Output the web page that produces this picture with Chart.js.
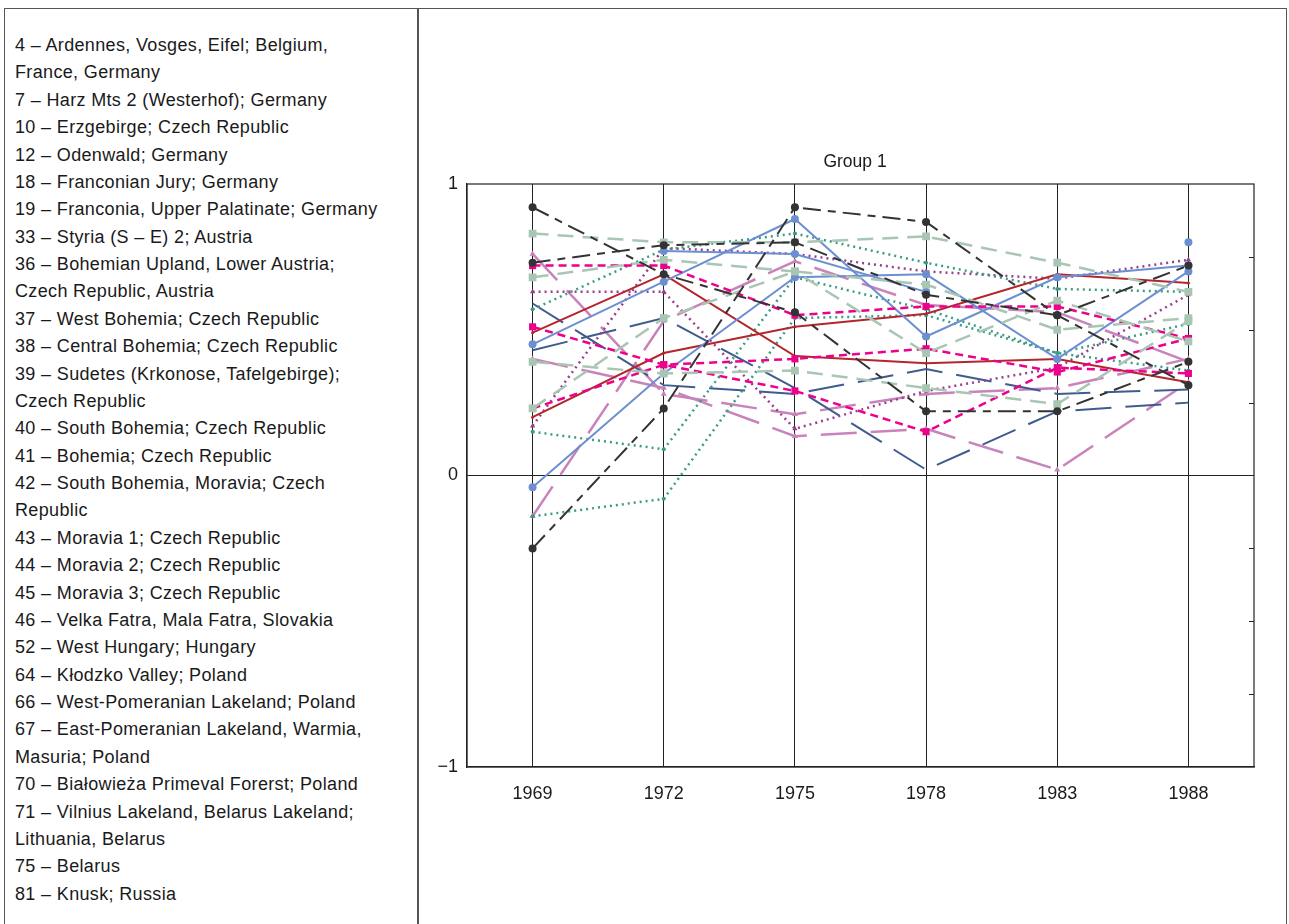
<!DOCTYPE html>
<html>
<head>
<meta charset="utf-8">
<script src="https://cdn.jsdelivr.net/npm/chart.js@4.4.1/dist/chart.umd.min.js"></script>
<style>
  html, body { margin: 0; padding: 0; background: #fff; }
  body { width: 1289px; height: 924px; position: relative; overflow: hidden;
         font-family: "Liberation Sans", Arial, sans-serif; }
  #frame { position: absolute; left: 4px; top: 8px; width: 1283px; height: 930px;
           border: 1.5px solid #555; border-bottom: none; box-sizing: border-box; }
  #divider { position: absolute; left: 417px; top: 8px; width: 1.5px; height: 930px; background: #555; }
  #key { position: absolute; left: 15px; top: 32px; font-size: 18px; line-height: 27.37px;
         letter-spacing: 0.35px; color: #1a1a1a; white-space: pre; }
  #wrap { position: absolute; left: 420px; top: 0; width: 869px; height: 924px; }
</style>
</head>
<body>
<div id="frame"></div>
<div id="divider"></div>
<div id="key"></div>
<div id="wrap"><canvas id="c" width="869" height="924"></canvas></div>
<script>
// Region key shown in the left panel (one entry per line, wrapped as printed)
const keyLines = [
  "4 – Ardennes, Vosges, Eifel; Belgium,",
  "France, Germany",
  "7 – Harz Mts 2 (Westerhof); Germany",
  "10 – Erzgebirge; Czech Republic",
  "12 – Odenwald; Germany",
  "18 – Franconian Jury; Germany",
  "19 – Franconia, Upper Palatinate; Germany",
  "33 – Styria (S – E) 2; Austria",
  "36 – Bohemian Upland, Lower Austria;",
  "Czech Republic, Austria",
  "37 – West Bohemia; Czech Republic",
  "38 – Central Bohemia; Czech Republic",
  "39 – Sudetes (Krkonose, Tafelgebirge);",
  "Czech Republic",
  "40 – South Bohemia; Czech Republic",
  "41 – Bohemia; Czech Republic",
  "42 – South Bohemia, Moravia; Czech",
  "Republic",
  "43 – Moravia 1; Czech Republic",
  "44 – Moravia 2; Czech Republic",
  "45 – Moravia 3; Czech Republic",
  "46 – Velka Fatra, Mala Fatra, Slovakia",
  "52 – West Hungary; Hungary",
  "64 – Kłodzko Valley; Poland",
  "66 – West-Pomeranian Lakeland; Poland",
  "67 – East-Pomeranian Lakeland, Warmia,",
  "Masuria; Poland",
  "70 – Białowieża Primeval Forerst; Poland",
  "71 – Vilnius Lakeland, Belarus Lakeland;",
  "Lithuania, Belarus",
  "75 – Belarus",
  "81 – Knusk; Russia"
];
document.getElementById('key').textContent = keyLines.join('\n');

// Survey years
const years = ['1969', '1972', '1975', '1978', '1983', '1988'];
const yTickValues = [-1, 0, 1];
const minorTickValues = [-0.75, -0.5, -0.25, 0.25, 0.5, 0.75];

// Correlation coefficients per region
const r4  = [0.92, 0.69, 0.56, 0.22, 0.22, 0.39];
const r7  = [0.73, 0.79, 0.80, 0.62, 0.55, 0.72];
const r10 = [-0.25, 0.23, 0.92, 0.87, 0.55, 0.31];
const r12 = [0.83, 0.80, 0.80, 0.82, 0.73, 0.63];
const r18 = [0.68, 0.74, 0.70, 0.42, 0.60, 0.46];
const r19 = [0.39, 0.35, 0.36, 0.30, 0.245, 0.53];
const r33 = [0.23, 0.54, 0.70, 0.655, 0.50, 0.54];
const r36 = [0.72, 0.72, 0.55, 0.58, 0.58, 0.47];
const r37 = [0.51, 0.38, 0.40, 0.435, 0.355, 0.47];
const r38 = [0.23, 0.38, 0.29, 0.15, 0.37, 0.35];
const r39 = [0.45, 0.665, 0.88, 0.477, 0.68, 0.72];
const r40 = [-0.04, 0.35, 0.68, 0.69, 0.40, 0.70];
const r41 = [null, 0.77, 0.76, 0.63, null, 0.80];
const r42 = [0.49, 0.69, 0.41, 0.385, 0.40, 0.32];
const r43 = [0.20, 0.42, 0.51, 0.555, 0.69, 0.66];
const r44 = [0.57, 0.775, 0.83, 0.73, 0.64, 0.63];
const r45 = [0.15, 0.09, 0.68, 0.57, 0.42, 0.36];
const r46 = [-0.14, -0.08, 0.54, 0.55, 0.42, 0.52];
const r52 = [0.63, 0.63, 0.16, 0.29, 0.37, 0.62];
const r64 = [0.17, 0.78, 0.76, 0.70, 0.675, 0.74];
const r66 = [0.43, 0.54, 0.30, 0.02, 0.22, 0.25];
const r67 = [0.59, 0.31, 0.28, 0.365, 0.28, 0.295];
const r70 = [0.76, 0.28, 0.21, 0.28, 0.30, 0.40];
const r71 = [-0.14, 0.53, 0.735, 0.585, 0.56, 0.39];
const r75 = [0.40, 0.30, 0.135, 0.16, 0.02, 0.32];

// Line styles
const styles = {
  black:   { borderColor: '#333333', borderWidth: 2,   borderDash: [18, 7, 8, 7], pointStyle: 'circle',   pointRadius: 4 },
  sage:    { borderColor: '#a9c6b4', borderWidth: 2.5, borderDash: [16, 9],       pointStyle: 'rect',     pointRadius: 5.5 },
  magenta: { borderColor: '#ec008c', borderWidth: 2.5, borderDash: [8, 5],        pointStyle: 'rect',     pointRadius: 5 },
  blue:    { borderColor: '#6c8fd1', borderWidth: 2,   borderDash: [],            pointStyle: 'circle',   pointRadius: 4 },
  red:     { borderColor: '#b3262c', borderWidth: 2,   borderDash: [],            pointStyle: 'circle',   pointRadius: 1.5 },
  teal:    { borderColor: '#3a9c86', borderWidth: 2.5, borderDash: [2, 4],        pointStyle: 'circle',   pointRadius: 2 },
  purple:  { borderColor: '#9a3f8e', borderWidth: 2.5, borderDash: [2, 4],        pointStyle: 'triangle', pointRadius: 3 },
  navy:    { borderColor: '#3f5c8e', borderWidth: 2,   borderDash: [36, 14],      pointStyle: 'line',     pointRadius: 3 },
  pink:    { borderColor: '#c983bb', borderWidth: 2.5, borderDash: [36, 14],      pointStyle: 'triangle', pointRadius: 3.5 }
};

const seriesList = [
  ['4', r4, 'black'], ['7', r7, 'black'], ['10', r10, 'black'],
  ['12', r12, 'sage'], ['18', r18, 'sage'], ['19', r19, 'sage'], ['33', r33, 'sage'],
  ['36', r36, 'magenta'], ['37', r37, 'magenta'], ['38', r38, 'magenta'],
  ['39', r39, 'blue'], ['40', r40, 'blue'], ['41', r41, 'blue'],
  ['42', r42, 'red'], ['43', r43, 'red'],
  ['44', r44, 'teal'], ['45', r45, 'teal'], ['46', r46, 'teal'],
  ['52', r52, 'purple'], ['64', r64, 'purple'],
  ['66', r66, 'navy'], ['67', r67, 'navy'],
  ['70', r70, 'pink'], ['71', r71, 'pink'], ['75', r75, 'pink']
];

const datasets = seriesList.map(([label, data, s]) => Object.assign({
  label, data, fill: false, tension: 0, spanGaps: false,
  pointBorderWidth: 0, pointHoverRadius: 4
}, styles[s], {
  backgroundColor: styles[s].borderColor,
  pointBorderColor: styles[s].borderColor,
  pointBackgroundColor: styles[s].borderColor
}));

const FONT = '"Liberation Sans", Arial, sans-serif';

// Frame, right-hand minor ticks and the panel title
const decor = {
  id: 'decor',
  afterDatasetsDraw(chart) {
    const { ctx, chartArea: a, scales: { y } } = chart;
    ctx.save();
    ctx.strokeStyle = '#222';
    ctx.lineWidth = 1.2;
    ctx.strokeRect(a.left, a.top, a.right - a.left, a.bottom - a.top);
    ctx.beginPath();
    minorTickValues.forEach(v => {
      const py = Math.round(y.getPixelForValue(v)) + 0.5;
      ctx.moveTo(a.right, py);
      ctx.lineTo(a.right - 5, py);
    });
    ctx.stroke();
    ctx.fillStyle = '#1a1a1a';
    ctx.font = '17.5px ' + FONT;
    ctx.textAlign = 'center';
    ctx.textBaseline = 'middle';
    ctx.fillText('Group 1', 435, 162);
    ctx.restore();
  }
};

new Chart(document.getElementById('c'), {
  type: 'line',
  data: { labels: years, datasets },
  options: {
    responsive: false,
    animation: false,
    layout: { padding: { top: 184, right: 35, bottom: 0, left: 0 } },
    plugins: { legend: { display: false }, title: { display: false }, tooltip: { enabled: false } },
    scales: {
      x: {
        offset: true,
        grid: { offset: false, color: '#222', lineWidth: 1, drawTicks: false },
        border: { display: true, color: '#222', width: 1.2 },
        ticks: { color: '#1a1a1a', font: { size: 18, family: FONT }, padding: 16, maxRotation: 0 },
        afterFit(scale) { scale.height = 157; }
      },
      y: {
        min: -1, max: 1,
        afterBuildTicks(scale) { scale.ticks = yTickValues.map(v => ({ value: v })); },
        grid: {
          drawTicks: false,
          color: c => (c.tick && c.tick.value === 0) ? '#222' : 'rgba(0,0,0,0)',
          lineWidth: 1
        },
        border: { display: true, color: '#222', width: 1.2 },
        ticks: {
          color: '#1a1a1a', padding: 9,
          font: { size: 18, family: FONT },
          callback: v => (v < 0 ? '\u2212' + Math.abs(v) : String(v))
        },
        afterFit(scale) { scale.width = 47; }
      }
    }
  },
  plugins: [decor]
});
</script>
</body>
</html>
